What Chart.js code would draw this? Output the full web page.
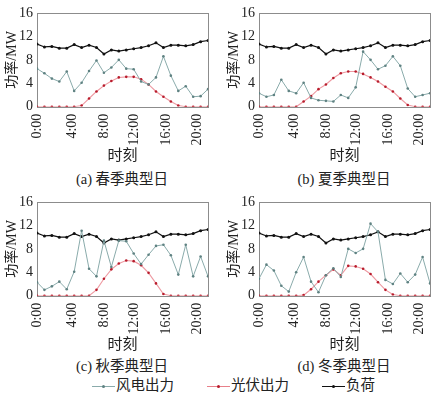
<!DOCTYPE html>
<html>
<head>
<meta charset="utf-8">
<script src="https://cdn.jsdelivr.net/npm/chart.js@4"></script>
<style>
    body { margin: 0; background: #fff; }
    #wrap { position: relative; width: 444px; height: 395px; overflow: hidden;
            font-family: "Liberation Serif", "Noto Sans CJK SC", serif; color: #222; }
    .panel { position: absolute; width: 222px; height: 165px; }
    .cap { position: absolute; font-size: 14.5px; line-height: 16px; white-space: nowrap; transform: translate(-50%, -50%); }
    .leg { position: absolute; top: 376px; height: 18px; font-size: 14.5px; line-height: 18px; white-space: nowrap; }
    .leg i { display: inline-block; position: relative; width: 23px; height: 1px; vertical-align: middle; margin-right: 1px; }
    .leg i b { position: absolute; left: 10px; top: -1px; width: 3px; height: 3px; border-radius: 2px; }
</style>
</head>
<body>
<div id="wrap">
    <div class="panel" style="left:0;top:0"><canvas id="chart-a" width="222" height="165"></canvas></div>
    <div class="panel" style="left:222px;top:0"><canvas id="chart-b" width="222" height="165"></canvas></div>
    <div class="panel" style="left:0;top:188.5px"><canvas id="chart-c" width="222" height="165"></canvas></div>
    <div class="panel" style="left:222px;top:188.5px"><canvas id="chart-d" width="222" height="165"></canvas></div>

    <div class="cap" style="left:122px;top:179px">(a) 春季典型日</div>
    <div class="cap" style="left:344px;top:179px">(b) 夏季典型日</div>
    <div class="cap" style="left:122px;top:366px">(c) 秋季典型日</div>
    <div class="cap" style="left:344px;top:366px">(d) 冬季典型日</div>

    <div class="leg" style="left:92px"><i style="background:#8aabab"><b style="background:#5f8282"></b></i>风电出力</div>
    <div class="leg" style="left:207px"><i style="background:#e8808a"><b style="background:#b81c2c"></b></i>光伏出力</div>
    <div class="leg" style="left:322px"><i style="background:#111"><b style="background:#111"></b></i>负荷</div>
</div>

<script>
// hours of the day (one point per hour)
var hours = [0, 1, 2, 3, 4, 5, 6, 7, 8, 9, 10, 11, 12, 13, 14, 15, 16, 17, 18, 19, 20, 21, 22, 23];

// x tick labels and where they sit on the hour axis
var tickLabels = ["0:00", "4:00", "8:00", "12:00", "16:00", "20:00"];
var tickPos = [0, 4.8, 9.0, 13.1, 17.4, 21.6];
var yTicks = [0, 4, 8, 12, 16];

// load is the same curve in all four panels
var load = [10.7, 10.2, 10.3, 10.0, 10.0, 10.6, 10.1, 10.5, 10.1, 9.0, 9.7, 9.5,
            9.7, 9.9, 10.1, 10.4, 10.9, 10.1, 10.5, 10.5, 10.4, 10.6, 11.1, 11.3];

// spring
var windSpring = [6.5, 5.7, 4.8, 4.3, 6.0, 2.7, 4.1, 6.1, 7.9, 5.8, 6.7, 8.0,
                  6.5, 6.4, 4.3, 3.8, 5.0, 8.6, 5.3, 2.7, 3.5, 1.7, 1.8, 3.0];
var pvSpring = [0, 0, 0, 0, 0, 0, 0.2, 1.4, 2.6, 3.6, 4.4, 5.0,
                5.1, 5.1, 4.7, 3.8, 2.6, 1.7, 0.9, 0.2, 0, 0, 0, 0];
// summer
var windSummer = [2.3, 1.7, 2.0, 4.6, 2.7, 2.3, 4.1, 1.5, 1.1, 1.0, 0.9, 2.0,
                  1.5, 3.3, 9.4, 8.0, 6.4, 7.0, 8.6, 7.0, 3.1, 1.7, 2.0, 2.3];
var pvSummer = [0, 0, 0, 0, 0, 0, 0.9, 1.8, 3.0, 3.8, 4.9, 5.7,
                6.0, 6.0, 5.6, 5.0, 4.3, 3.4, 2.6, 1.4, 0.3, 0, 0, 0];
// autumn
var windAutumn = [2.3, 1.0, 1.6, 2.4, 1.1, 4.1, 11.1, 4.6, 3.3, 9.4, 4.9, 9.4,
                  9.3, 7.2, 5.4, 7.0, 8.5, 8.7, 6.9, 3.6, 8.7, 3.3, 6.7, 3.3];
var pvAutumn = [0, 0, 0, 0, 0, 0, 0, 0, 1.0, 2.9, 4.5, 5.5,
                6.0, 5.9, 5.2, 3.9, 2.1, 0.3, 0, 0, 0, 0, 0, 0];
// winter
var windWinter = [2.9, 5.3, 4.3, 1.7, 0.7, 4.0, 6.6, 2.4, 0.6, 3.5, 4.7, 3.2,
                  8.0, 7.3, 8.0, 12.3, 10.9, 2.7, 2.0, 3.8, 2.3, 3.6, 6.6, 2.1];
var pvWinter = [0, 0, 0, 0, 0, 0, 0.1, 1.1, 2.4, 3.5, 4.5, 3.5,
                5.1, 5.0, 4.6, 3.7, 2.3, 1.0, 0.2, 0, 0, 0, 0, 0];

var FONT = "'Liberation Serif', 'Noto Sans CJK SC', serif";

function pts(values) {
    return values.map(function(v, i) { return {x: hours[i], y: v}; });
}

// grey box around the plot area
var boxPlugin = {
    id: "box",
    beforeDatasetsDraw: function(chart) {
        var a = chart.chartArea, ctx = chart.ctx;
        ctx.save();
        ctx.strokeStyle = "#8c8c8c";
        ctx.lineWidth = 1;
        ctx.strokeRect(Math.round(a.left) + 0.5, Math.round(a.top) + 0.5,
                       Math.round(a.right - a.left), Math.round(a.bottom - a.top));
        ctx.restore();
    }
};

function makePanel(id, wind, pv) {
    new Chart(document.getElementById(id), {
        type: "line",
        data: {
            datasets: [{
                label: "风电出力",
                data: pts(wind),
                borderColor: "#8aabab",
                backgroundColor: "#5f8282",
                pointBackgroundColor: "#5f8282",
                borderWidth: 1,
                pointRadius: 1.3,
                pointBorderWidth: 0
            }, {
                label: "光伏出力",
                data: pts(pv),
                borderColor: "#ee9aa2",
                backgroundColor: "#b81c2c",
                pointBackgroundColor: "#b81c2c",
                borderWidth: 1.1,
                pointRadius: 1.3,
                pointBorderWidth: 0
            }, {
                label: "负荷",
                data: pts(load),
                borderColor: "#111",
                backgroundColor: "#111",
                pointBackgroundColor: "#111",
                borderWidth: 1.2,
                pointRadius: 1.5,
                pointBorderWidth: 0
            }]
        },
        options: {
            responsive: false,
            animation: false,
            layout: {
                padding: {top: 13, right: 9.3, left: 4, bottom: 0}
            },
            plugins: {
                legend: {display: false},
                tooltip: {enabled: false}
            },
            scales: {
                x: {
                    type: "linear",
                    min: 0,
                    max: 23,
                    grid: {display: false, drawTicks: false},
                    border: {display: false},
                    afterBuildTicks: function(scale) {
                        scale.ticks = tickPos.map(function(v) { return {value: v}; });
                    },
                    afterFit: function(scale) { scale.height = 58.3; },
                    ticks: {
                        autoSkip: false,
                        minRotation: 90,
                        maxRotation: 90,
                        padding: 7,
                        color: "#222",
                        font: {family: FONT, size: 14},
                        callback: function(value, index) { return tickLabels[index]; }
                    },
                    title: {
                        display: true,
                        text: "时刻",
                        color: "#222",
                        padding: 0,
                        font: {family: FONT, size: 15}
                    }
                },
                y: {
                    min: 0,
                    max: 16,
                    grid: {display: false, drawTicks: false},
                    border: {display: false},
                    afterBuildTicks: function(scale) {
                        scale.ticks = yTicks.map(function(v) { return {value: v}; });
                    },
                    afterFit: function(scale) { scale.width = 33; },
                    ticks: {
                        padding: 4,
                        color: "#222",
                        font: {family: FONT, size: 14}
                    },
                    title: {
                        display: true,
                        text: "功率/MW",
                        color: "#222",
                        padding: 0,
                        font: {family: FONT, size: 14}
                    }
                }
            }
        },
        plugins: [boxPlugin]
    });
}

document.addEventListener("DOMContentLoaded", function() {
    makePanel("chart-a", windSpring, pvSpring);
    makePanel("chart-b", windSummer, pvSummer);
    makePanel("chart-c", windAutumn, pvAutumn);
    makePanel("chart-d", windWinter, pvWinter);
});
</script>
</body>
</html>
